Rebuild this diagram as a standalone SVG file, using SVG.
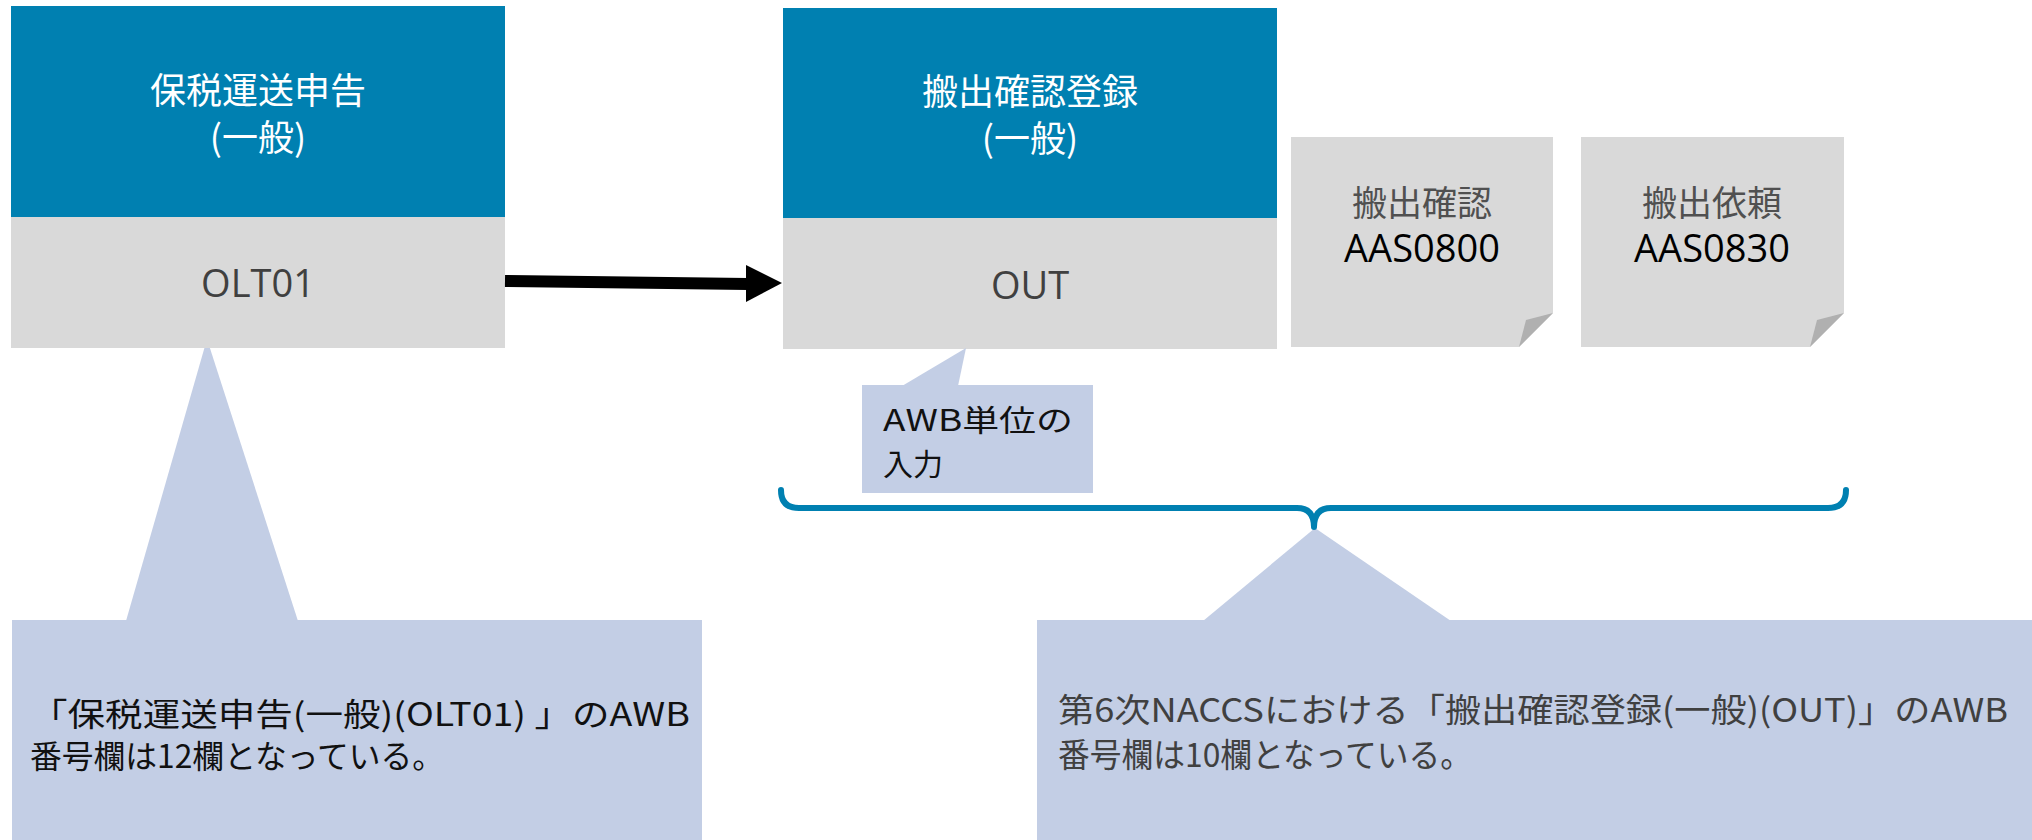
<svg xmlns="http://www.w3.org/2000/svg" width="2032" height="840" viewBox="0 0 2032 840">
<style>
  text { font-family: "Noto Sans CJK JP", "Noto Sans", sans-serif; }
  .blue { fill: #0080B1; }
  .gray { fill: #D9D9D9; }
  .call { fill: #C3CEE5; }
  .fold { fill: #B0B0B0; }
  .title { fill: #FFFFFF; font-size: 36px; text-anchor: middle; }
  .code { fill: #404040; font-size: 38px; text-anchor: middle; font-family: "Open Sans", "Noto Sans", sans-serif; }
  .note1 { fill: #505050; font-size: 35px; text-anchor: middle; }
  .note2 { fill: #000000; font-size: 38px; text-anchor: middle; font-family: "Open Sans", "Noto Sans", sans-serif; }
  .ctext { fill: #111111; font-size: 32px; }
  .ctext2 { fill: #404040; font-size: 33px; }
  .brace { fill: none; stroke: #0080B1; stroke-width: 6; stroke-linecap: round; stroke-linejoin: round; }
</style>
<rect x="0" y="0" width="2032" height="840" fill="#FFFFFF"/>

<g id="callout-left">
  <polygon class="call" points="207,339 126,621 298,621"/>
  <rect class="call" x="12" y="620" width="690" height="220"/>
  <text class="ctext" x="30" y="726" textLength="660" lengthAdjust="spacingAndGlyphs">「保税運送申告(一般)(OLT01) 」のAWB</text>
  <text class="ctext" x="30" y="768" textLength="414" lengthAdjust="spacingAndGlyphs">番号欄は12欄となっている。</text>
</g>

<g id="node-olt01">
  <rect class="blue" x="11" y="6" width="494" height="211"/>
  <rect class="gray" x="11" y="217" width="494" height="131"/>
  <text class="title" x="258" y="104">保税運送申告</text>
  <text class="title" x="258" y="151">(一般)</text>
  <text class="code" x="258" y="297">OLT01</text>
</g>

<g id="node-out">
  <rect class="blue" x="783" y="8" width="494" height="210"/>
  <rect class="gray" x="783" y="218" width="494" height="131"/>
  <text class="title" x="1030" y="105">搬出確認登録</text>
  <text class="title" x="1030" y="152">(一般)</text>
  <text class="code" x="1030" y="299">OUT</text>
</g>

<g id="callout-awb">
  <polygon class="call" points="902,386 966,348 958,386"/>
  <rect class="call" x="862" y="385" width="231" height="108"/>
  <text class="ctext" x="883" y="431" style="font-size:30px" textLength="190" lengthAdjust="spacingAndGlyphs">AWB単位の</text>
  <text class="ctext" x="883" y="475" style="font-size:30px">入力</text>
</g>

<g id="note-aas0800">
  <polygon class="gray" points="1291,137 1553,137 1553,313 1519,347 1291,347"/>
  <polygon class="fold" points="1553,313 1519,347 1526,320"/>
  <text class="note1" x="1422" y="216">搬出確認</text>
  <text class="note2" x="1422" y="262">AAS0800</text>
</g>

<g id="note-aas0830">
  <polygon class="gray" points="1581,137 1844,137 1844,313 1810,347 1581,347"/>
  <polygon class="fold" points="1844,313 1810,347 1817,320"/>
  <text class="note1" x="1712" y="216">搬出依頼</text>
  <text class="note2" x="1712" y="262">AAS0830</text>
</g>

<g id="callout-right">
  <polygon class="call" points="1315,528 1203,621 1451,621"/>
  <rect class="call" x="1037" y="620" width="995" height="220"/>
  <text class="ctext2" x="1058" y="722" textLength="950" lengthAdjust="spacingAndGlyphs">第6次NACCSにおける「搬出確認登録(一般)(OUT)」のAWB</text>
  <text class="ctext2" x="1058" y="767" textLength="414" lengthAdjust="spacingAndGlyphs">番号欄は10欄となっている。</text>
</g>

<g id="connectors">
  <path d="M505,281 L748,284" stroke="#000000" stroke-width="12" fill="none"/>
  <polygon points="746,265 782,283 746,302" fill="#000000"/>
  <path class="brace" d="M781,490 Q781,508 799,508 L1297,508 Q1314,508 1314,527 Q1314,508 1331,508 L1828,508 Q1846,508 1846,490"/>
</g>
</svg>
